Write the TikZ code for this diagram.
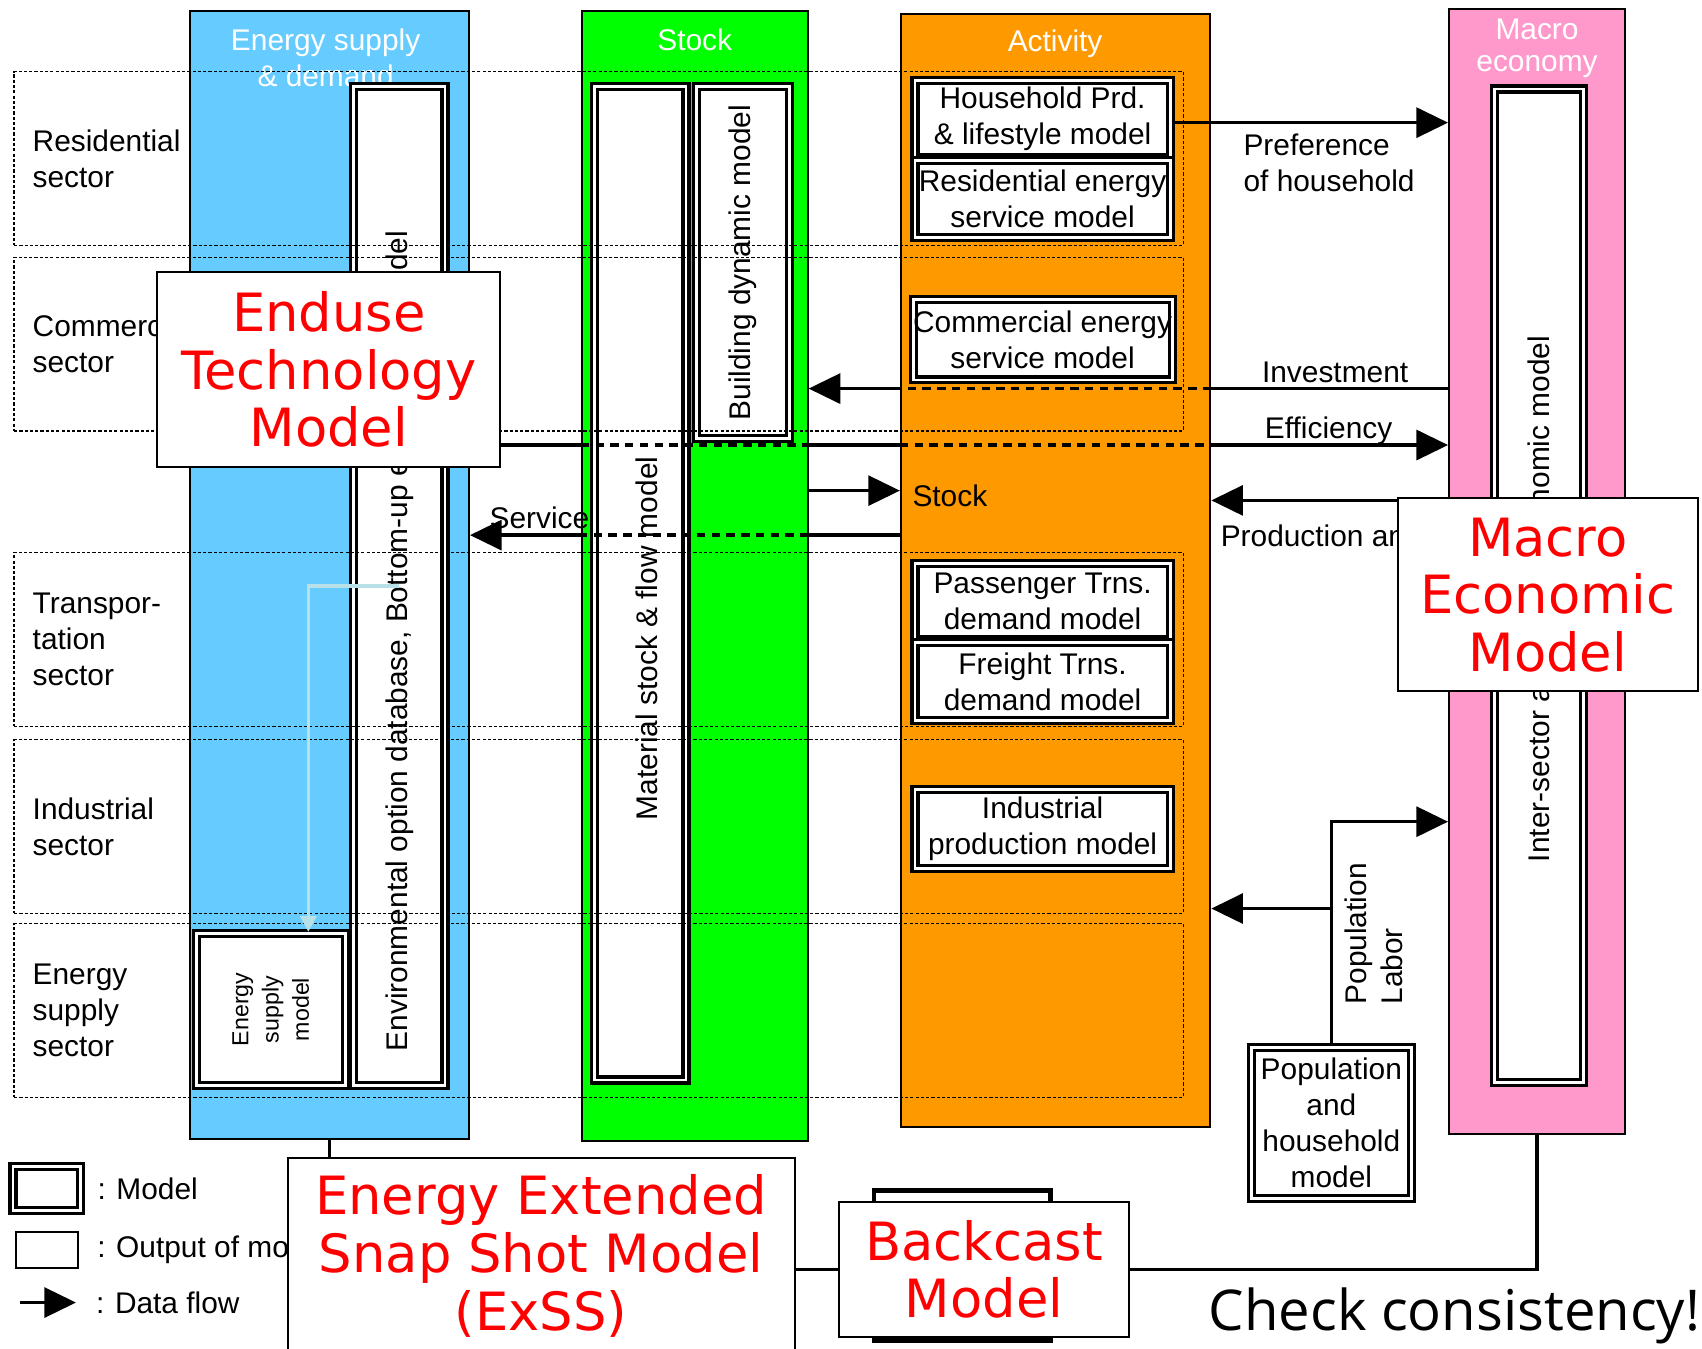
\documentclass[tikz,border=0pt]{standalone}
\usepackage{fontspec}
\setmainfont{Liberation Sans}
\newfontfamily\redfont{DejaVu Sans}
\newfontfamily\checkfont{Open Sans}
\usepackage{tikz}
\usetikzlibrary{positioning}
\usetikzlibrary{arrows.meta}
\usetikzlibrary{calc}

\definecolor{supplyblue}{RGB}{102,204,255}
\definecolor{stockgreen}{RGB}{0,255,0}
\definecolor{activityorange}{RGB}{255,153,0}
\definecolor{macropink}{RGB}{255,153,204}
\definecolor{lightline}{RGB}{183,225,230}
\newcommand{\pxu}{0.10855mm}

\begin{document}
\begin{tikzpicture}
    [x=0.10855mm, y=-0.10855mm, font=\fontsize{8.5}{10.3}\selectfont,
    colrect/.style={draw=black, semithick},
    coltitle/.style={text=white, align=center},
    modelrect/.style={draw=black, fill=white, line width=0.9pt, double=white, double distance=0.8pt, inner sep=0pt, align=center},
    outrect/.style={draw=black, fill=white, line width=0.6pt},
    redtitle/.style={text=red, align=center, font=\redfont\fontsize{15}{16.4}\selectfont},
    rowrect/.style={draw=black, line width=0.35pt, dash pattern=on 0.9pt off 0.6pt, minimum width=1077*\pxu, minimum height=160*\pxu},
    rowlabel/.style={align=left, inner sep=0pt},
    rottext/.style={rotate=90, inner sep=0pt},
    flowline/.style={line width=1pt},
    dashline/.style={line width=1pt, dash pattern=on 2.4pt off 1.8pt},
    flowarrow/.style={line width=1pt, arrows={-{Triangle[length=9pt,width=8.5pt]}}},
    lightarrow/.style={draw=lightline, line width=1pt, arrows={-{Triangle[length=4.5pt,width=4.5pt]}}}]

    \useasboundingbox (0,0) rectangle (1568,1242);

    % columns
    \node[colrect, fill=supplyblue, minimum width=257*\pxu, minimum height=1039*\pxu] (supply) at (303.5,529.5) {};
    \node[colrect, fill=stockgreen, minimum width=208*\pxu, minimum height=1041*\pxu] (stock) at (640,530.5) {};
    \node[colrect, fill=activityorange, minimum width=285*\pxu, minimum height=1025*\pxu] (act) at (972.5,525.5) {};
    \node[colrect, fill=macropink, minimum width=162*\pxu, minimum height=1037*\pxu] (macro) at (1416,526.5) {};

    \node[coltitle] (supplytitle) at (300,53) {Energy supply\\\& demand};
    \node[coltitle] (stocktitle) at (640,37) {Stock};
    \node[coltitle] (acttitle) at (972,40) {Activity};
    \node[coltitle, font=\fontsize{8.5}{9}\selectfont] (macrotitle) at (1416,44.5) {Macro\\economy};

    % models
    \node[modelrect, minimum width=84*\pxu, minimum height=920*\pxu] (env) at (368,540) {};
    \node[rottext, anchor=west] (envtext) at ([yshift=3.5mm]env.south) {Environmental option database, Bottom-up engineering model};
    \node[modelrect, minimum width=137*\pxu, minimum height=140*\pxu] (esm) at (249.5,930) {};
    \node[rottext, align=center, font=\fontsize{6.6}{8.6}\selectfont] (esmtext) at (esm.center) {Energy\\supply\\model};

    \node[modelrect, minimum width=84*\pxu, minimum height=915*\pxu] (msf) at (590,537.5) {};
    \node[rottext] (msftext) at ([xshift=0.6mm,yshift=-5.5mm]msf.center) {Material stock \& flow model};
    \node[modelrect, minimum width=85*\pxu, minimum height=324*\pxu] (bdm) at (684.5,242) {};
    \node[rottext] (bdmtext) at (bdm.center) {Building dynamic model};

    \node[modelrect, minimum width=235*\pxu, minimum height=71*\pxu] (hh) at (960.5,109.5) {Household Prd.\\\& lifestyle model};
    \node[modelrect, minimum width=235*\pxu, minimum height=71*\pxu] (res) at (960.5,183.5) {Residential energy\\service model};
    \node[modelrect, minimum width=235*\pxu, minimum height=74*\pxu] (com) at (960.5,313) {Commercial energy\\service model};
    \node[modelrect, minimum width=235*\pxu, minimum height=70*\pxu] (pas) at (960.5,554) {Passenger Trns.\\demand model};
    \node[modelrect, minimum width=235*\pxu, minimum height=72*\pxu] (fre) at (960.5,628) {Freight Trns.\\demand model};
    \node[modelrect, minimum width=235*\pxu, minimum height=73*\pxu] (ind) at (960.5,763.5) {Industrial\\production model};

    \node[modelrect, minimum width=82*\pxu, minimum height=915*\pxu] (ise) at (1418,539.5) {};
    \node[rottext, anchor=west] (isetext) at ([yshift=22.1mm]ise.south) {Inter-sector and macro economic model};
    \node[modelrect, minimum width=147*\pxu, minimum height=139*\pxu] (pop) at (1226.5,1034.5) {Population\\and\\household\\model};

    % sectors
    \node[rowrect] (rres) at (551.5,146) {};
    \node[rowrect] (rcom) at (551.5,317) {};
    \node[rowrect] (rtra) at (551.5,589) {};
    \node[rowrect] (rind) at (551.5,761.5) {};
    \node[rowrect] (rene) at (551.5,931) {};
    \node[rowlabel, right=1.85mm of rres.west] (lres) {Residential\\sector};
    \node[rowlabel, right=1.85mm of rcom.west] (lcom) {Commercial\\sector};
    \node[rowlabel, right=1.85mm of rtra.west] (ltra) {Transpor-\\tation\\sector};
    \node[rowlabel, right=1.85mm of rind.west] (lind) {Industrial\\sector};
    \node[rowlabel, right=1.85mm of rene.west] (lene) {Energy\\supply\\sector};

    % data flows
    \coordinate (prefy) at (0,113);
    \coordinate (invy) at (0,358);
    \coordinate (effy) at (0,410);
    \coordinate (stky) at (0,452);
    \coordinate (prdy) at (0,461);
    \coordinate (svcy) at (0,493);
    \coordinate (labory) at (0,757);
    \coordinate (popy) at (0,837);

    \draw[flowarrow] (hh.east |- prefy) -- (macro.west |- prefy);
    \node[rowlabel, anchor=west] (preflabel) at (1145,150) {Preference\\of household};

    \draw[flowline] (macro.west |- invy) -- (act.east |- invy);
    \draw[dashline] (act.east |- invy) -- (act.west |- invy);
    \draw[flowarrow] (act.west |- invy) -- (stock.east |- invy);
    \node (invlabel) at (1230,343) {Investment};

    \draw[flowline] (supply.east |- effy) -- (stock.west |- effy);
    \draw[dashline] (stock.west |- effy) -- (stock.east |- effy);
    \draw[flowline] (stock.east |- effy) -- (act.west |- effy);
    \draw[dashline] (act.west |- effy) -- (act.east |- effy);
    \draw[flowarrow] (act.east |- effy) -- (macro.west |- effy);
    \node (efflabel) at (1224,397) {Efficiency};

    \draw[flowarrow] (stock.east |- stky) -- (act.west |- stky);
    \node[rowlabel, anchor=west] (stklabel) at (840,457) {Stock};

    \draw[flowline] (act.west |- svcy) -- (stock.east |- svcy);
    \draw[dashline] (stock.east |- svcy) -- (stock.west |- svcy);
    \draw[flowarrow] (stock.west |- svcy) -- (supply.east |- svcy);
    \node (svclabel) at (497,477) {Service};

    \draw[flowarrow] (macro.west |- prdy) -- (act.east |- prdy);
    \node[rowlabel, anchor=west] (prdlabel) at (1124,494) {Production and};

    \draw[flowarrow] (pop.north) |- (macro.west |- labory);
    \draw[flowarrow] (pop.north |- popy) -- (act.east |- popy);
    \node[rottext, anchor=north west, align=left] (poplabel) at (1238,926) {Population\\Labor};

    \draw[lightarrow] (env.center) -| ([xshift=3.75mm]esm.north);

    % legend
    \node[modelrect, minimum width=62*\pxu, minimum height=40*\pxu] (legmodel) at (43,1095) {};
    \node[rowlabel, right=1.5mm of legmodel.east] (legmodeltext) {:\hspace{3pt}Model};
    \node[outrect, minimum width=57*\pxu, minimum height=33*\pxu] (legout) at (43.5,1151.5) {};
    \node[rowlabel, right=1.75mm of legout.east] (legouttext) {:\hspace{3pt}Output of model};
    \coordinate (legflows) at (18,1200);
    \coordinate (legflowe) at (70,1200);
    \draw[flowarrow] (legflows) -- (legflowe);
    \node[rowlabel, right=1.95mm of legflowe] (legflowtext) {:\hspace{3pt}Data flow};

    % big models
    \node[outrect, minimum width=316*\pxu, minimum height=179*\pxu, redtitle] (etm) at (303,340.5) {Enduse\\Technology\\Model};
    \node[outrect, minimum width=276*\pxu, minimum height=178*\pxu, redtitle] (meco) at (1426,548) {Macro\\Economic\\Model};
    \node[outrect, minimum width=467*\pxu, minimum height=180*\pxu, redtitle] (exss) at (498.5,1157) {Energy Extended\\Snap Shot Model\\(ExSS)};
    \node[draw=black, fill=white, line width=1.3pt, minimum width=163*\pxu, minimum height=138*\pxu] (bcmtab) at (886.5,1166) {};
    \node[outrect, minimum width=267*\pxu, minimum height=125*\pxu, redtitle] (bcm) at (906.5,1169.5) {Backcast\\Model};

    \draw[flowline] (supply.south) -- (supply.south |- exss.north);
    \draw[flowline] (exss.east |- bcm.west) -- (bcm.west);
    \draw[flowline] (bcm.east) -| (macro.south);

    \node[font=\checkfont\fontsize{16}{18}\selectfont] (check) at (1340,1212) {Check consistency!};
\end{tikzpicture}
\end{document}
